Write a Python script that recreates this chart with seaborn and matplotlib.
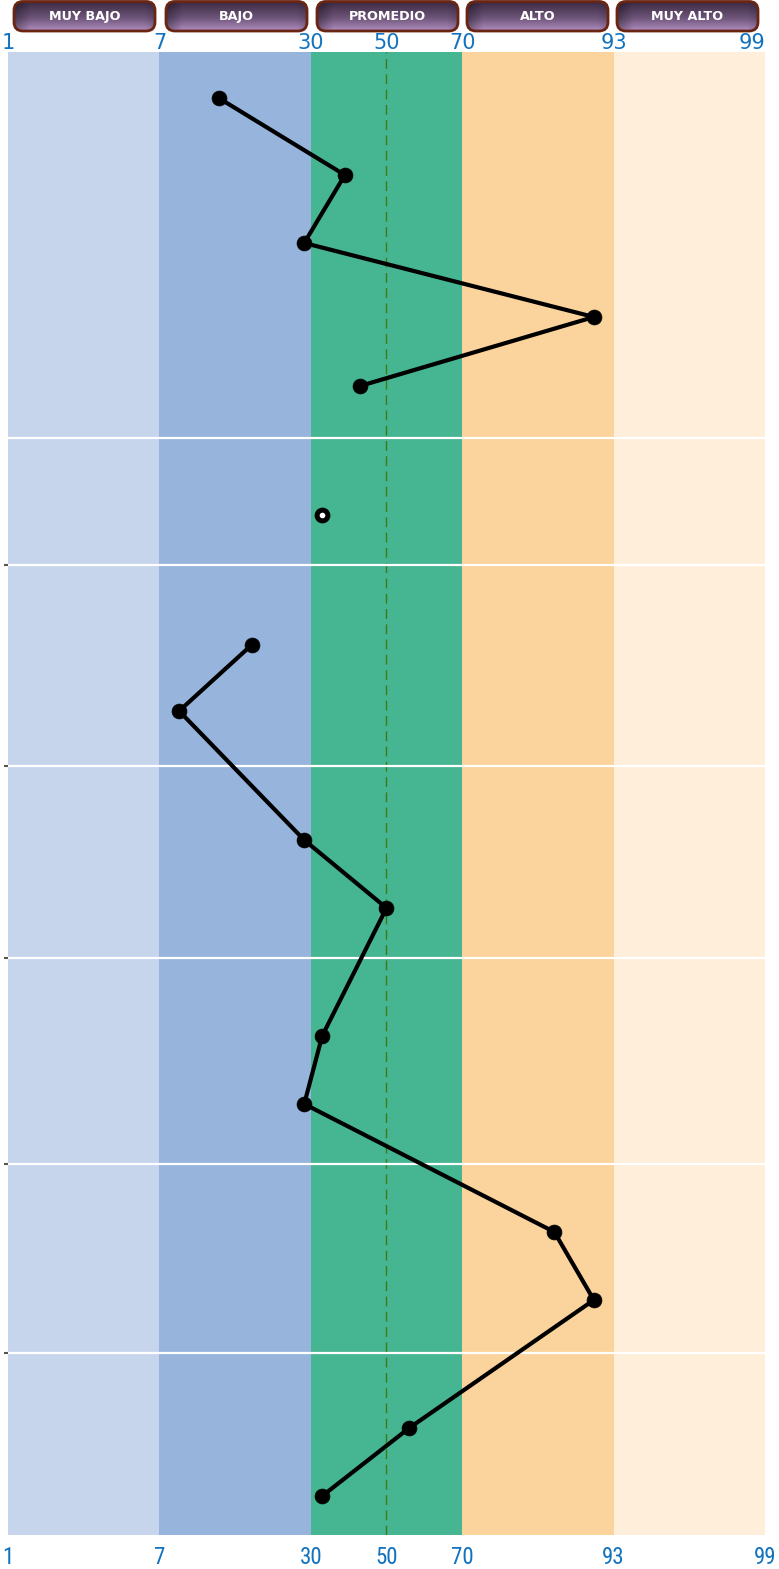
import numpy as np
import pandas as pd
import matplotlib
matplotlib.use("Agg")
import matplotlib.pyplot as plt
from matplotlib.patches import FancyBboxPatch
from matplotlib import font_manager as fm
import seaborn as sns

# ---- data ----
band_labels = ["MUY BAJO", "BAJO", "PROMEDIO", "ALTO", "MUY ALTO"]
tick_pct = [1, 7, 30, 50, 70, 93, 99]
tick_pos = [0, 1, 2, 2.5, 3, 4, 5]
band_edges = [1, 7, 30, 70, 93, 99]
band_colors = ["#C6D5EC", "#96B4DC", "#45B592", "#FBD39C", "#FEEEDA"]

percentiles = [16, 39, 29, 90, 43, 33, 21, 10, 29, 50, 33, 29, 84, 90, 56, 33]
rows = [46, 123, 191, 265, 334, 463, 593, 659, 788, 856, 984, 1052, 1180, 1248, 1376, 1444]
segment = ["A"] * 5 + ["B"] + ["C"] * 10
hollow = [False] * 5 + [True] + [False] * 10
separators = [386, 513, 714, 906, 1112, 1301]
left_ticks = [513, 714, 906, 1112, 1301]
row_max = 1483

df = pd.DataFrame({"pct": percentiles, "row": rows, "seg": segment, "hollow": hollow})

sns.set_theme(style="white")
plt.rcParams["font.family"] = ["DejaVu Sans"]

available = {f.name for f in fm.fontManager.ttflist}
narrow = "DejaVu Sans"
for cand in ["Liberation Sans Narrow", "DejaVu Sans Condensed", "Roboto Condensed", "Open Sans Condensed"]:
    if cand in available:
        narrow = cand
        break

W, H = 779, 1569
fig = plt.figure(figsize=(W / 100, H / 100), dpi=100)
ax = fig.add_axes([8 / W, 1 - 1535 / H, (765 - 8) / W, (1535 - 52) / H])

fwd = lambda p: np.interp(p, tick_pct, tick_pos)
inv = lambda u: np.interp(u, tick_pos, tick_pct)
ax.set_xscale("function", functions=(fwd, inv))
ax.set_xlim(1, 99)
ax.set_ylim(row_max, 0)

for i, c in enumerate(band_colors):
    ax.axvspan(band_edges[i], band_edges[i + 1], color=c, lw=0, zorder=0)
ax.axvline(50, color="#3F7A12", lw=1.0, dashes=(7, 4), zorder=1)
for s in separators:
    ax.axhline(s, color="white", lw=1.6, zorder=1)

sns.lineplot(data=df, x="pct", y="row", units="seg", estimator=None, sort=False,
             color="black", lw=3.0, ax=ax, zorder=3, legend=False)
solid = df[~df["hollow"]]
holl = df[df["hollow"]]
sns.scatterplot(data=solid, x="pct", y="row", color="black", s=115, edgecolor="black",
                linewidth=0.5, ax=ax, zorder=4, legend=False)
sns.scatterplot(data=holl, x="pct", y="row", color="white", s=60, edgecolor="black",
                linewidth=3.6, ax=ax, zorder=4, legend=False)

# bottom tick labels (condensed)
ax.set_xticks(tick_pct)
ax.set_xticklabels([str(t) for t in tick_pct], family=[narrow, "DejaVu Sans"],
                   fontsize=16.5, color="#1272BE")
ax.tick_params(axis="x", length=0, pad=8, bottom=False, top=False,
               labelbottom=True, labeltop=False)
ax.set_yticks(left_ticks)
ax.set_yticklabels([])
ax.tick_params(axis="y", left=True, length=3, width=1.5, color="#555555", pad=0,
               direction="out")
for sp in ax.spines.values():
    sp.set_visible(False)
ax.set_xlabel("")
ax.set_ylabel("")
ax.grid(False)

# top tick labels on a twin axis with the same scale
axt = ax.twiny()
axt.set_xscale("function", functions=(fwd, inv))
axt.set_xlim(1, 99)
axt.set_xticks(tick_pct)
axt.set_xticklabels([str(t) for t in tick_pct], fontsize=15, color="#1272BE")
axt.tick_params(axis="x", length=0, pad=-1, top=False)
axt.get_xticklabels()[-1].set_horizontalalignment("right")
axt.get_xticklabels()[-1].set_x(99.6)
for sp in axt.spines.values():
    sp.set_visible(False)
axt.grid(False)

# ---- header buttons ----
ov = fig.add_axes([0, 0, 1, 1], zorder=10)
ov.set_xlim(0, W)
ov.set_ylim(H, 0)
ov.axis("off")
ov.patch.set_alpha(0)
btn_x = [13, 165, 316, 466, 616]
btn_w = 143
top, bot = 1, 31

top_c = np.array([0x3A, 0x28, 0x40]) / 255
mid_c = np.array([0x6E, 0x55, 0x7A]) / 255
bot_c = np.array([0xB6, 0x92, 0xC6]) / 255
ny, nx = 60, 140
v = np.linspace(0, 1, ny)[:, None]
split = 0.55
col = np.where(v[..., None] < split,
               top_c + (mid_c - top_c) * (v[..., None] / split),
               mid_c + (bot_c - mid_c) * ((v[..., None] - split) / (1 - split)))
col = np.repeat(col, nx, axis=1)
h = np.linspace(0, 1, nx)[None, :]
shade = 1 - 0.35 * np.clip(1 - h / 0.12, 0, 1) - 0.15 * np.clip((h - 0.92) / 0.08, 0, 1)
img = np.clip(col * shade[..., None], 0, 1)

for x0, lab in zip(btn_x, band_labels):
    patch = FancyBboxPatch((x0 + 1, top + 0.5), btn_w - 2, bot - top - 0.5,
                           boxstyle="round,pad=0,rounding_size=9",
                           fc="none", ec="#6A2412", lw=2.0, zorder=3)
    ov.add_patch(patch)
    im = ov.imshow(img, extent=(x0, x0 + btn_w, bot + 1, top), aspect="auto", zorder=2,
                   interpolation="bilinear")
    im.set_clip_path(patch)
    ov.text(x0 + btn_w / 2, (top + bot) / 2 + 0.5, lab, color="white", fontsize=9.2,
            fontweight="bold", ha="center", va="center", zorder=4)
ov.set_xlim(0, W)
ov.set_ylim(H, 0)

fig.savefig("out.png", dpi=100)
